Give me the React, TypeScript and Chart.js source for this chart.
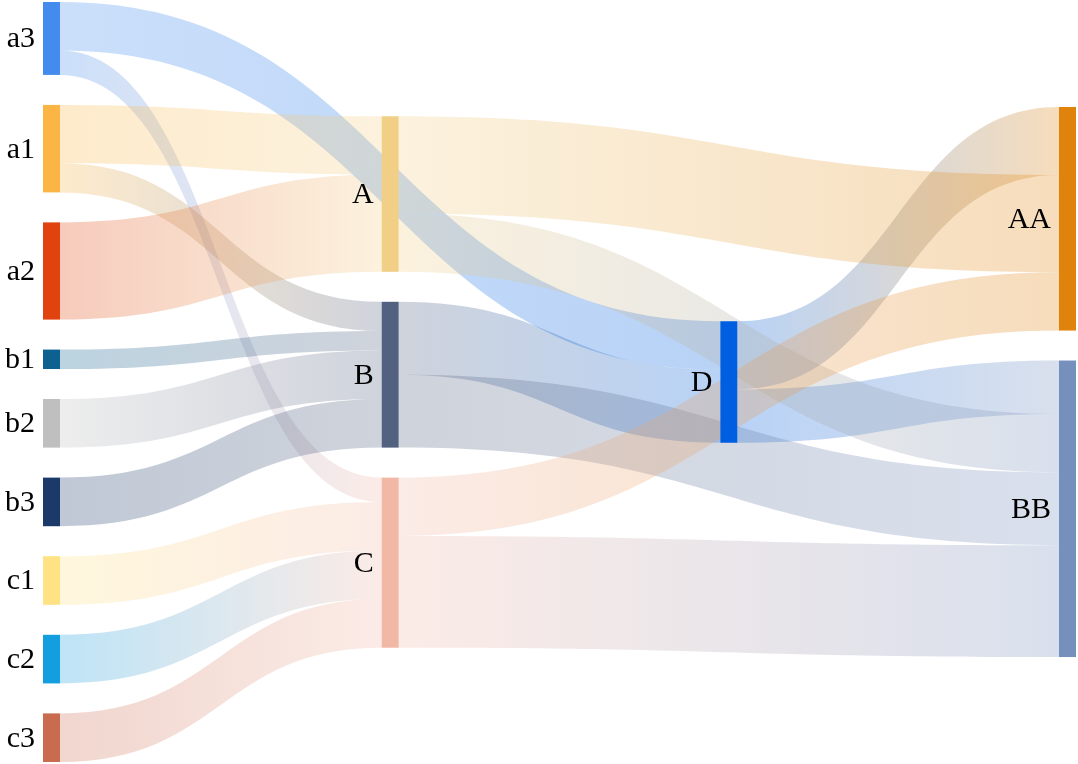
import { useEffect, useRef } from 'react';
import { Chart, registerables } from 'chart.js';

Chart.register(...registerables);

// ---- data ----
const nodeNames = ['a3', 'a1', 'a2', 'b1', 'b2', 'b3', 'c1', 'c2', 'c3', 'A', 'B', 'C', 'D', 'AA', 'BB'];
const nodeColumns = [0, 0, 0, 0, 0, 0, 0, 0, 0, 1, 1, 1, 2, 3, 3];
const nodeColors = [
  '#438CEE', '#FBB545', '#E0430D', '#0D6190', '#BFBFBF', '#1B3A69', '#FFE283', '#139EE0', '#C96B4E',
  '#F2CF86', '#52617F', '#F2B8A6', '#005FE0', '#E0830C', '#7690BE',
];
const linkSources = ['a3', 'a3', 'a1', 'a1', 'a2', 'b1', 'b2', 'b3', 'c1', 'c2', 'c3', 'D', 'D', 'A', 'A', 'B', 'B', 'C', 'C'];
const linkTargets = ['D', 'C', 'A', 'B', 'A', 'B', 'B', 'B', 'C', 'C', 'C', 'AA', 'BB', 'AA', 'BB', 'D', 'BB', 'AA', 'BB'];
const linkValues = [10, 5, 12, 6, 20, 4, 10, 10, 10, 10, 10, 14, 11, 20, 12, 15, 15, 12, 23];

// ---- style ----
const NODE_GAP = 6.17; // in value units
const NODE_WIDTH = 17;
const LINK_ALPHA = 0.28;
const FONT = '30px "Liberation Serif", "Times New Roman", serif';

// ---- layout in value space ----
const idx = (n: string) => nodeNames.indexOf(n);
const nodeIn = nodeNames.map(() => 0);
const nodeOut = nodeNames.map(() => 0);
linkValues.forEach((v, i) => {
  nodeOut[idx(linkSources[i])] += v;
  nodeIn[idx(linkTargets[i])] += v;
});
const nodeValues = nodeNames.map((_, i) => Math.max(nodeIn[i], nodeOut[i]));
const numCols = Math.max(...nodeColumns) + 1;
const colHeights: number[] = [];
for (let c = 0; c < numCols; c++) {
  const members = nodeNames.map((_, i) => i).filter((i) => nodeColumns[i] === c);
  const sum = members.reduce((s, i) => s + nodeValues[i], 0);
  colHeights.push(sum + (members.length - 1) * NODE_GAP);
}
const Y_MAX = Math.max(...colHeights);
const nodeY0: number[] = nodeNames.map(() => 0);
for (let c = 0; c < numCols; c++) {
  let y = (Y_MAX - colHeights[c]) / 2;
  nodeNames.forEach((_, i) => {
    if (nodeColumns[i] === c) {
      nodeY0[i] = y;
      y += nodeValues[i] + NODE_GAP;
    }
  });
}

function hexA(hex: string, a: number) {
  const r = parseInt(hex.slice(1, 3), 16);
  const g = parseInt(hex.slice(3, 5), 16);
  const b = parseInt(hex.slice(5, 7), 16);
  return `rgba(${r},${g},${b},${a})`;
}

const sankeyPlugin = {
  id: 'sankeyDraw',
  afterDatasetsDraw(chart: any) {
    const ctx: CanvasRenderingContext2D = chart.ctx;
    const xs = chart.scales.x;
    const ys = chart.scales.y;
    const outOff = nodeNames.map(() => 0);
    const inOff = nodeNames.map(() => 0);
    ctx.save();
    // links
    linkValues.forEach((v, i) => {
      const s = idx(linkSources[i]);
      const t = idx(linkTargets[i]);
      const x0 = xs.getPixelForValue(nodeColumns[s]) + NODE_WIDTH / 2;
      const x1 = xs.getPixelForValue(nodeColumns[t]) - NODE_WIDTH / 2;
      const s0 = ys.getPixelForValue(nodeY0[s] + outOff[s]);
      const s1 = ys.getPixelForValue(nodeY0[s] + outOff[s] + v);
      const t0 = ys.getPixelForValue(nodeY0[t] + inOff[t]);
      const t1 = ys.getPixelForValue(nodeY0[t] + inOff[t] + v);
      outOff[s] += v;
      inOff[t] += v;
      const xm = (x0 + x1) / 2;
      const grad = ctx.createLinearGradient(x0, 0, x1, 0);
      grad.addColorStop(0, hexA(nodeColors[s], LINK_ALPHA));
      grad.addColorStop(1, hexA(nodeColors[t], LINK_ALPHA));
      ctx.beginPath();
      ctx.moveTo(x0, s0);
      ctx.bezierCurveTo(xm, s0, xm, t0, x1, t0);
      ctx.lineTo(x1, t1);
      ctx.bezierCurveTo(xm, t1, xm, s1, x0, s1);
      ctx.closePath();
      ctx.fillStyle = grad;
      ctx.fill();
    });
    // nodes
    nodeNames.forEach((_, i) => {
      const cx = xs.getPixelForValue(nodeColumns[i]);
      const y0 = ys.getPixelForValue(nodeY0[i]);
      const y1 = ys.getPixelForValue(nodeY0[i] + nodeValues[i]);
      ctx.fillStyle = nodeColors[i];
      ctx.fillRect(cx - NODE_WIDTH / 2, y0, NODE_WIDTH, y1 - y0);
    });
    // labels
    ctx.font = FONT;
    ctx.fillStyle = '#000';
    ctx.textAlign = 'right';
    ctx.textBaseline = 'middle';
    nodeNames.forEach((name, i) => {
      const cx = xs.getPixelForValue(nodeColumns[i]);
      const yc = ys.getPixelForValue(nodeY0[i] + nodeValues[i] / 2);
      ctx.fillText(name, cx - NODE_WIDTH / 2 - 8, yc + 1);
    });
    ctx.restore();
  },
};

export default function App() {
  const ref = useRef<HTMLCanvasElement>(null);
  useEffect(() => {
    const chart = new Chart(ref.current as HTMLCanvasElement, {
      type: 'scatter',
      data: { datasets: [{ data: [], pointRadius: 0 }] },
      options: {
        responsive: false,
        animation: false,
        devicePixelRatio: 1,
        layout: { padding: { left: 51.5, right: 10.5, top: 2, bottom: 2 } },
        plugins: { legend: { display: false }, tooltip: { enabled: false }, title: { display: false } },
        scales: {
          x: { type: 'linear', min: 0, max: numCols - 1, display: false },
          y: { type: 'linear', min: 0, max: Y_MAX, reverse: true, display: false },
        },
      },
      plugins: [sankeyPlugin],
    });
    return () => chart.destroy();
  }, []);
  return (
    <div style={{ position: 'absolute', left: 0, top: 0, width: 1078, height: 764, background: '#fff' }}>
      <canvas ref={ref} width={1078} height={764} style={{ display: 'block', width: 1078, height: 764 }} />
    </div>
  );
}
